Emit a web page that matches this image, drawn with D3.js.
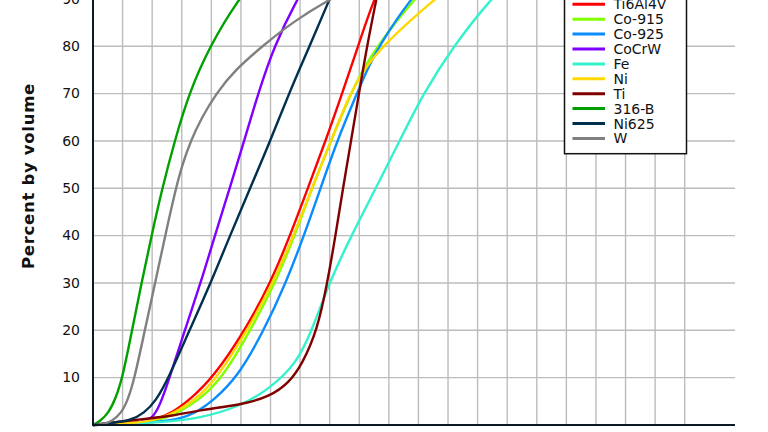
<!DOCTYPE html>
<html>
<head>
<meta charset="utf-8">
<script src="https://cdn.jsdelivr.net/npm/d3@7"></script>
<style>
  html, body { margin: 0; padding: 0; background: #fff; }
  svg { display: block; font-family: "DejaVu Sans", Verdana, sans-serif; }
</style>
</head>
<body>
<svg id="chart" width="768" height="432"></svg>
<script>
// cumulative particle size distribution, size (µm) vs percent by volume
const seriesNames = ["Ti6Al4V", "Co-915", "Co-925", "CoCrW", "Fe", "Ni", "Ti", "316-B", "Ni625", "W"];
const seriesColors = ["#ff0000", "#80ff00", "#0a8cff", "#8000ff", "#33f2cc", "#ffd800", "#800000", "#00a000", "#00304f", "#808080"];

// [size, percent] pairs
const ti6al4v = [[0,0],[6,0.3],[10.5,1],[13.2,2.5],[16.05,5],[20.3,10],[25.7,20],[30,30],[33.3,40],[36.3,50],[39.3,60],[42.1,70],[44.8,80],[47.45,90],[49.6,95]];
const co915 = [[0,0],[6.5,0.3],[12.2,1],[18,5.2],[21.9,10],[26.6,20],[30.8,30],[34.1,40],[37,50],[40.2,60],[43.6,70],[45.6,75],[48,80],[54.2,90],[58.5,95]];
const co925 = [[0,0],[7,0.3],[14.7,1],[18.1,3.2],[20.1,5],[24.4,10],[28.9,20],[32.6,30],[35.66,40],[38.45,50],[41.24,60],[44.6,70],[46.3,75],[48.3,80],[53.6,90],[57.5,95]];
const cocrw = [[0,0],[5,0.15],[8,0.5],[9.9,1.2],[11.25,3.9],[12.95,10],[15.5,20],[18.2,30],[20.6,40],[23.1,50],[25.55,60],[27.9,70],[30.6,80],[34.5,90],[37,95]];
const fe = [[0,0],[11.3,0.5],[18.1,1.4],[24.8,3.9],[29.9,7.7],[34.4,13],[37,20],[39.9,30],[43.65,40],[47.8,50],[51.8,60],[55.8,70],[60.9,80],[67.2,90],[71.5,95]];
const ni = [[0,0],[6,0.3],[11.5,1],[17.2,5],[21,10],[26.1,20],[30.4,30],[33.9,40],[37,50],[40.2,60],[43.4,70],[45.8,75],[48.8,80],[57.7,90],[63,95]];
const ti = [[0,0],[7.94,1.2],[13.5,1.9],[18.08,3.2],[24.84,4.2],[29.9,6],[33.2,9],[35.4,13],[37.9,20],[39.6,30],[40.98,40],[42.25,50],[43.6,60],[44.95,70],[46.3,80],[47.9,90],[48.7,95]];
const b316 = [[0,0],[1.2,0.8],[2.6,2.5],[3.8,5.5],[5,10],[6.6,20],[8.2,30],[9.9,40],[11.7,50],[13.8,60],[16.2,70],[19.7,80],[24.6,90],[28,95]];
const ni625 = [[0,0],[2.5,0.35],[6.5,1],[8.6,2.5],[10.6,5],[12.8,10],[16.3,20],[19.9,30],[23.15,40],[26.55,50],[29.95,60],[33.1,70],[36.6,80],[40,90],[41.7,95]];
const w = [[0,0],[1.7,0.2],[3.1,0.7],[4.8,2.5],[5.9,5.3],[7.05,10],[8.75,20],[10.5,30],[12.2,40],[14,50],[15.1,55],[16.5,60],[18.4,65],[20.8,70],[24,75],[28.6,80],[33.6,85],[40,90],[48,95]];

const seriesValues = [ti6al4v, co915, co925, cocrw, fe, ni, ti, b316, ni625, w];

const yTicks = [10, 20, 30, 40, 50, 60, 70, 80, 90, 100];
const xGrid = d3.range(5, 101, 5);

const svg = d3.select("#chart");
svg.append("rect").attr("width", 768).attr("height", 432).attr("fill", "#fff");

const xScale = d3.scaleLinear().domain([0, 108.5]).range([93, 735]);
const yScale = d3.scaleLinear().domain([0, 100]).range([425, 425 - 473.4]);

// grid
svg.append("g").selectAll("line").data(xGrid).join("line")
  .attr("x1", d => xScale(d)).attr("x2", d => xScale(d))
  .attr("y1", yScale(0)).attr("y2", yScale(100))
  .attr("stroke", "#bcbcbc").attr("stroke-width", 1.4);
svg.append("g").selectAll("line").data(yTicks).join("line")
  .attr("x1", xScale(0)).attr("x2", xScale(108.5))
  .attr("y1", d => yScale(d)).attr("y2", d => yScale(d))
  .attr("stroke", "#bcbcbc").attr("stroke-width", 1.4);

// curves
const lineGen = d3.line()
  .x(d => xScale(d[0]))
  .y(d => yScale(d[1]))
  .curve(d3.curveBasis);

svg.append("g").selectAll("path").data(seriesValues).join("path")
  .attr("d", d => lineGen(d))
  .attr("fill", "none")
  .attr("stroke", (d, i) => seriesColors[i])
  .attr("stroke-width", 2.4)
  .attr("stroke-linejoin", "round");

// axes
const yAxis = svg.append("g")
  .attr("transform", `translate(${xScale(0)},0)`)
  .call(d3.axisLeft(yScale).tickValues(yTicks).tickSize(0).tickPadding(13));
yAxis.select(".domain").remove();
yAxis.selectAll("text")
  .attr("font-family", "'DejaVu Sans', Verdana, sans-serif")
  .attr("font-size", 14).attr("fill", "#111").attr("dy", "0.3em");

svg.append("line")
  .attr("x1", xScale(0)).attr("x2", xScale(0))
  .attr("y1", yScale(0) + 1).attr("y2", yScale(100))
  .attr("stroke", "#0c1a28").attr("stroke-width", 2);
svg.append("line")
  .attr("x1", xScale(0) - 1).attr("x2", xScale(108.5))
  .attr("y1", yScale(0)).attr("y2", yScale(0))
  .attr("stroke", "#0c1a28").attr("stroke-width", 2.2);

svg.append("text")
  .attr("transform", "translate(28.5,176) rotate(-90)")
  .attr("text-anchor", "middle")
  .attr("dominant-baseline", "central")
  .attr("font-size", 16.5).attr("font-weight", "bold").attr("fill", "#111")
  .attr("letter-spacing", 0.7)
  .text("Percent by volume");

// legend
const legend = svg.append("g").attr("transform", "translate(564.5,0)");
legend.append("rect")
  .attr("x", 0).attr("y", -40).attr("width", 122).attr("height", 193.7)
  .attr("fill", "#fff").attr("stroke", "#111").attr("stroke-width", 1.5);
const item = legend.selectAll("g.item").data(seriesNames).join("g")
  .attr("class", "item")
  .attr("transform", (d, i) => `translate(0,${4.3 + i * 14.9})`);
item.append("line")
  .attr("x1", 8).attr("x2", 40.5)
  .attr("stroke", (d, i) => seriesColors[i]).attr("stroke-width", 3);
item.append("text")
  .attr("x", 49).attr("dy", "0.36em")
  .attr("font-size", 14).attr("fill", "#111")
  .text(d => d);
</script>
</body>
</html>
